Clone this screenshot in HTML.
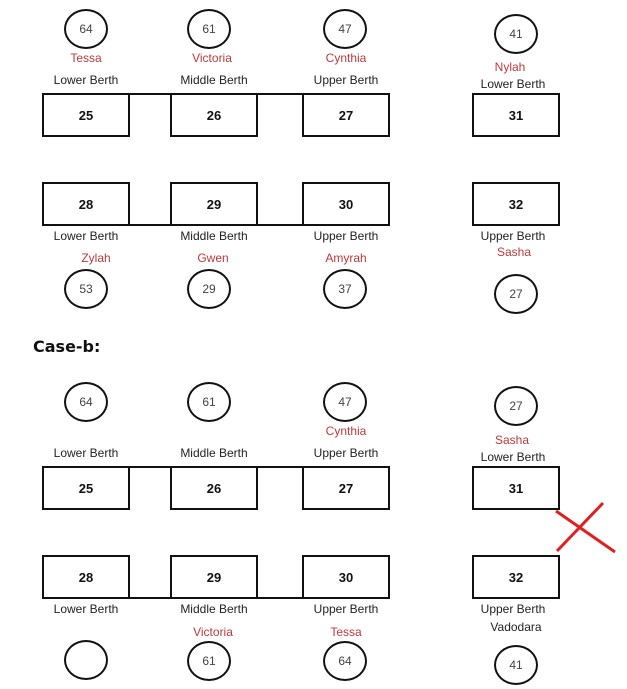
<html><head><style>
body{margin:0;width:627px;height:689px;background:#fff;position:relative;font-family:"Liberation Sans",Arial,sans-serif;overflow:hidden}
.b{position:absolute;width:84px;height:40px;border:2px solid #111;box-sizing:content-box;display:flex;align-items:center;justify-content:center;font-weight:bold;font-size:13px;color:#111}
.c{position:absolute;width:40px;height:36px;border:2px solid #111;border-radius:50%;display:flex;align-items:center;justify-content:center;font-size:12px;color:#444}
.t{position:absolute;font-size:12px;color:#222;transform:translateX(-50%);white-space:nowrap;line-height:14px}
.r{color:#c0393b}
.h{position:absolute;height:2px;background:#111}
</style></head><body>
<!-- row1 -->
<div class="b" style="left:42px;top:93px">25</div>
<div class="b" style="left:170px;top:93px">26</div>
<div class="b" style="left:302px;top:93px">27</div>
<div class="b" style="left:472px;top:93px">31</div>
<div class="h" style="left:128px;top:93px;width:44px"></div>
<div class="h" style="left:256px;top:93px;width:48px"></div>
<div class="b" style="left:42px;top:182px">28</div>
<div class="b" style="left:170px;top:182px">29</div>
<div class="b" style="left:302px;top:182px">30</div>
<div class="b" style="left:472px;top:182px">32</div>
<div class="h" style="left:128px;top:224px;width:44px"></div>
<div class="h" style="left:256px;top:224px;width:48px"></div>
<div class="c" style="left:64px;top:9px">64</div>
<div class="c" style="left:187px;top:9px">61</div>
<div class="c" style="left:323px;top:9px">47</div>
<div class="c" style="left:494px;top:14px">41</div>
<div class="t r" style="left:86px;top:51px">Tessa</div>
<div class="t r" style="left:212px;top:51px">Victoria</div>
<div class="t r" style="left:346px;top:51px">Cynthia</div>
<div class="t r" style="left:510px;top:60px">Nylah</div>
<div class="t" style="left:86px;top:73px">Lower Berth</div>
<div class="t" style="left:214px;top:73px">Middle Berth</div>
<div class="t" style="left:346px;top:73px">Upper Berth</div>
<div class="t" style="left:513px;top:77px">Lower Berth</div>
<div class="t" style="left:86px;top:229px">Lower Berth</div>
<div class="t" style="left:214px;top:229px">Middle Berth</div>
<div class="t" style="left:346px;top:229px">Upper Berth</div>
<div class="t" style="left:513px;top:229px">Upper Berth</div>
<div class="t r" style="left:96px;top:251px">Zylah</div>
<div class="t r" style="left:213px;top:251px">Gwen</div>
<div class="t r" style="left:346px;top:251px">Amyrah</div>
<div class="t r" style="left:514px;top:245px">Sasha</div>
<div class="c" style="left:64px;top:269px">53</div>
<div class="c" style="left:187px;top:269px">29</div>
<div class="c" style="left:323px;top:269px">37</div>
<div class="c" style="left:494px;top:274px">27</div>
<div style="position:absolute;left:33px;top:337px;font-weight:bold;font-size:16px;font-family:'DejaVu Sans',sans-serif;color:#111">Case-b:</div>
<!-- case b -->
<div class="c" style="left:64px;top:382px">64</div>
<div class="c" style="left:187px;top:382px">61</div>
<div class="c" style="left:323px;top:382px">47</div>
<div class="c" style="left:494px;top:386px">27</div>
<div class="t r" style="left:346px;top:424px">Cynthia</div>
<div class="t r" style="left:512px;top:433px">Sasha</div>
<div class="t" style="left:86px;top:446px">Lower Berth</div>
<div class="t" style="left:214px;top:446px">Middle Berth</div>
<div class="t" style="left:346px;top:446px">Upper Berth</div>
<div class="t" style="left:513px;top:450px">Lower Berth</div>
<div class="b" style="left:42px;top:466px">25</div>
<div class="b" style="left:170px;top:466px">26</div>
<div class="b" style="left:302px;top:466px">27</div>
<div class="b" style="left:472px;top:466px">31</div>
<div class="h" style="left:128px;top:466px;width:44px"></div>
<div class="h" style="left:256px;top:466px;width:48px"></div>
<div class="b" style="left:42px;top:555px">28</div>
<div class="b" style="left:170px;top:555px">29</div>
<div class="b" style="left:302px;top:555px">30</div>
<div class="b" style="left:472px;top:555px">32</div>
<div class="h" style="left:128px;top:597px;width:44px"></div>
<div class="h" style="left:256px;top:597px;width:48px"></div>
<div class="t" style="left:86px;top:602px">Lower Berth</div>
<div class="t" style="left:214px;top:602px">Middle Berth</div>
<div class="t" style="left:346px;top:602px">Upper Berth</div>
<div class="t" style="left:513px;top:602px">Upper Berth</div>
<div class="t r" style="left:213px;top:625px">Victoria</div>
<div class="t r" style="left:346px;top:625px">Tessa</div>
<div class="t" style="left:516px;top:620px">Vadodara</div>
<div class="c" style="left:64px;top:640px"></div>
<div class="c" style="left:187px;top:641px">61</div>
<div class="c" style="left:323px;top:641px">64</div>
<div class="c" style="left:494px;top:645px">41</div>
<svg style="position:absolute;left:0;top:0" width="627" height="689"><g stroke="#e02020" stroke-width="3"><line x1="557" y1="551" x2="603" y2="503"/><line x1="556" y1="511" x2="615" y2="552"/></g></svg>
</body></html>
